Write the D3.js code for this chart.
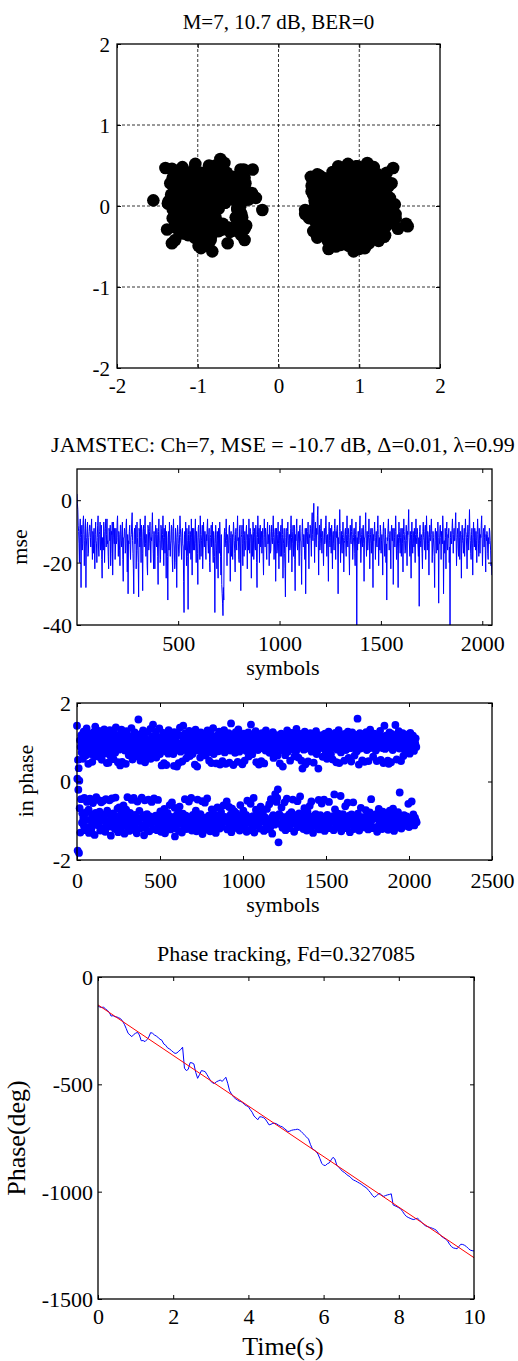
<!DOCTYPE html>
<html>
<head>
<meta charset="utf-8">
<script src="https://cdn.jsdelivr.net/npm/d3@7"></script>
<style>
  body { margin: 0; background: #fff; }
  svg text { font-family: "Liberation Serif", "Times New Roman", serif; fill: #000; }
</style>
</head>
<body>
<svg id="fig" width="518" height="1361"></svg>
<script>
// ---------- equalizer output: in-phase / quadrature, one entry per 2 symbols ----------
const inPhase = [
1.42,0.07,-1.76,0.55,-0.21,0.34,-1.82,0.02,-0.68,1.05,-1.30,0.88,-0.45,1.18,0.74,-1.05,-0.81,0.95,0.58,-0.93,1.27,-1.14,-0.42,0.84,1.09,-1.24,0.66,-0.79,0.99,1.35,-0.52,-0.98,
0.80,-1.17,0.45,-0.72,-1.31,1.02,1.21,-0.44,0.92,-0.99,0.70,-1.22,1.13,-0.84,0.50,0.89,-0.55,-1.08,1.26,-0.91,0.77,-1.36,0.64,1.40,-0.80,0.97,-0.40,1.04,-1.11,0.85,-0.95,1.16,
-0.47,0.73,1.29,-1.03,-0.77,0.62,-1.25,1.01,1.10,-0.53,-0.90,0.55,1.20,-1.19,0.87,-0.49,0.96,-1.00,1.33,0.71,-0.84,-1.28,0.93,-0.45,1.06,-1.07,0.47,-0.74,1.17,-1.02,0.82,0.48,
-1.15,1.00,-0.48,1.31,-0.86,0.65,-1.38,1.05,0.78,-0.43,0.95,-1.12,1.12,-0.81,0.57,-0.97,1.24,0.86,-1.21,0.73,-0.41,1.38,-0.89,0.94,-1.04,1.08,-0.69,0.49,-1.29,1.00,0.81,-0.66,
1.19,-0.88,0.41,-1.18,0.98,-0.76,1.32,-0.99,0.50,1.03,-1.13,0.90,-0.61,1.23,-0.85,-1.33,0.79,1.11,-0.92,0.45,-0.72,1.28,0.95,-1.16,-0.40,0.85,1.07,-1.01,0.67,-1.26,1.16,0.91,
-0.80,1.00,-1.09,0.76,1.36,-0.47,-0.94,0.56,1.14,-1.23,0.93,-0.42,0.82,-1.15,1.25,-0.85,0.64,1.04,-0.99,0.88,-1.32,0.97,-0.51,1.19,0.72,1.58,-1.02,0.92,-0.75,1.10,-1.20,0.53,
0.89,-0.93,1.22,-0.41,0.66,-1.12,1.01,1.30,-0.86,0.77,-1.37,0.96,-0.48,0.49,1.09,-0.95,-1.19,0.87,0.62,-0.83,1.26,-1.01,0.98,-0.46,1.05,0.72,-1.27,0.94,-0.89,1.34,0.58,-1.08,
0.86,-0.52,1.15,-0.98,0.67,1.45,-1.21,0.91,-0.43,1.07,0.79,-1.03,1.00,-0.87,1.27,0.61,-0.99,-1.24,0.93,0.74,-0.47,1.13,-1.11,0.84,1.35,-0.92,0.70,-0.76,1.03,-1.28,0.96,0.41,
-1.01,1.11,-0.84,0.87,1.24,-1.14,0.47,-0.70,0.99,-1.32,1.19,0.77,-0.94,0.42,-1.06,1.08,0.92,-0.80,-1.17,0.71,1.31,-0.97,0.86,-0.60,1.14,1.01,-1.22,0.75,-0.90,1.22,-0.53,0.96,
1.05,-1.10,0.70,-0.95,0.40,1.26,-0.67,-1.40,0.90,-1.19,1.12,0.81,-0.86,0.38,-1.02,0.97,1.20,-0.79,0.47,-1.26,0.95,-0.64,1.37,-1.08,0.76,0.88,-0.92,1.17,-1.30,0.51,1.01,-0.82,
1.42,-0.99,0.82,-1.16,1.08,-0.45,0.93,1.23,-0.87,0.59,-1.21,0.99,-0.96,1.14,0.73,-1.07,0.88,-0.51,1.29,-1.13,0.65,0.96,-0.91,1.04,-0.42,0.84,-1.25,1.20,0.70,-0.85,1.10,-1.00,
0.78,-1.12,1.00,0.43,-0.93,1.32,-0.74,1.02,-1.27,0.90,0.38,-0.46,1.18,-1.04,0.79,-0.89,1.12,0.95,-1.20,0.61,-0.83,1.25,-0.99,0.87,1.06,-0.50,-1.34,0.98,0.72,-1.09,1.16,-0.92,
0.93,-0.54,1.20,-1.23,0.66,1.01,-0.97,0.85,-0.43,1.30,-1.12,0.81,1.10,-0.87,0.53,-1.05,0.99,-1.27,0.75,1.22,-0.95,0.47,-0.71,1.07,0.89,-1.17,1.36,-0.82,0.70,0.96,-1.02,1.05,
-0.85,0.83,-1.31,1.13,0.46,-0.96,1.17,-0.66,0.97,-1.09,0.77,-0.88,1.27,0.91,-1.20,0.43,-0.99,1.06,-0.78,0.87,1.21,-1.15,0.52,-0.93,1.02,-0.61,0.95,1.31,-1.03,0.74,-0.90,1.10,
0.45,-1.00,0.92,-0.51,1.16,-1.22,0.86,1.00,-0.93,1.23,-0.65,0.48,-1.12,1.09,0.79,-0.84,1.48,-1.29,0.93,-0.69,0.88,1.19,-1.01,0.42,-1.15,1.04,-0.76,0.99,0.73,-1.06,1.26,-0.91,
-0.81,1.11,0.90,-1.19,0.50,-0.95,1.33,-0.87,0.97,0.76,-1.25,1.05,-0.60,0.82,-1.01,1.18,0.99,-0.89,0.44,-1.10,1.14,-0.74,0.87,1.22,-0.97,0.53,-1.21,1.07,0.93,-0.85,0.78,-1.28,
1.02,-0.49,0.98,-1.05,1.25,0.64,-0.91,0.88,-1.24,1.10,0.74,-0.57,1.45,-0.99,0.92,-1.16,0.69,1.15,-0.88,1.01,-0.42,1.06,-1.30,0.86,0.95,-1.01,1.28,-0.72,0.49,-1.12,1.13,0.91,
-0.94,0.80,-1.13,1.18,0.43,-0.84,1.00,-1.20,1.07,-0.64,0.90,0.52,-1.02,1.23,-0.96,0.85,-0.77,1.09,0.96,-1.26,0.46,-0.90,1.15,-0.98,0.79,1.30,-1.10,0.92,-0.70,0.99,-1.21,1.03,
0.87,-1.01,1.12,-0.58,0.73,1.20,-1.17,0.94,-0.45,1.05,-0.92,0.82,-1.33,0.97,1.26,-0.86,0.60,-0.99,1.13,-1.10,0.77,-0.32,1.00,-0.96,1.18,-0.52,0.89,-0.42,0.66,-0.20,1.08,-1.55,
0.95,-0.83,1.10,0.46,-1.08,0.91,-0.88,1.22,-0.66,0.79,1.04,-1.18,0.38,-0.95,0.99,-1.02,1.16,-0.53,0.86,0.67,-1.24,1.06,-0.90,0.96,-0.44,1.30,-1.00,0.76,0.90,-1.12,1.19,-0.84,
1.01,-1.19,0.53,-0.90,1.13,0.93,-0.78,1.24,-1.06,0.82,-0.46,0.97,1.08,-0.94,-1.28,0.64,1.18,-0.86,0.91,-1.09,0.77,1.34,-0.99,0.87,-0.50,1.02,-1.16,0.61,0.96,-0.81,1.11,-1.01,
-0.38,0.88,1.21,-1.13,0.53,-0.92,0.99,0.33,-0.85,1.14,-1.21,0.81,0.93,-0.68,1.27,-1.02,0.44,-0.96,1.09,0.84,-1.25,0.94,-0.76,1.17,0.51,-1.10,1.01,-0.89,1.05,-0.62,0.85,1.23,
-1.17,0.98,-0.51,0.76,1.12,-1.00,0.90,-1.31,1.20,0.48,-0.87,1.03,-1.11,0.87,0.95,-0.83,1.28,-0.94,0.70,-1.15,1.07,0.80,-0.98,0.33,-0.47,1.16,-1.22,0.91,0.99,-0.86,1.10,-1.04,
0.88,-0.56,1.18,-1.09,0.63,1.00,-0.91,1.10,-0.46,0.83,-1.26,1.22,0.94,-0.97,0.74,-1.13,1.04,0.58,-0.85,1.13,-1.01,0.92,1.27,-0.52,0.78,-1.19,0.98,-0.94,1.08,0.70,-1.03,0.90,
-0.99,1.17,0.56,-0.88,0.96,-1.24,1.05,-0.33,0.87,-0.71,1.24,0.91,-1.11,0.49,-0.95,1.12,0.81,-1.17,1.01,-0.82,1.31,-0.93,0.47,-1.04,1.08,0.95,-0.37,0.74,-1.27,1.20,-0.90,0.86,
1.02,-0.83,0.92,1.14,-1.14,0.53,-1.00,1.21,-0.63,0.99,0.80,-1.19,1.10,-0.91,0.89,-0.54,1.27,-1.07,0.60,0.96,-0.87,1.06,-1.29,0.85,1.16,-0.96,0.51,-0.84,1.00,1.25,-1.11,0.93,
-0.53,0.86,-1.21,1.09,0.66,-0.97,1.02,-0.89,0.95,1.19,-1.15,0.77,0.99,1.60,-0.82,1.13,-1.01,0.43,-1.25,0.90,1.23,-0.94,0.84,-0.67,1.05,-1.08,0.97,0.54,-0.91,1.20,-1.17,0.88,
1.11,-0.95,0.50,-1.12,1.01,0.91,-0.73,1.26,-1.03,0.80,-0.87,1.07,0.93,-1.22,0.52,-0.98,1.18,0.85,-0.79,1.32,-1.08,0.92,-0.45,1.00,1.10,-1.19,0.88,-0.96,0.63,1.04,-0.86,1.22,
-0.90,0.97,1.14,-1.16,0.79,-0.83,1.05,0.52,-1.28,0.98,-0.95,1.20,0.86,-0.70,1.09,-1.08,0.92,1.29,-0.99,0.55,-0.87,1.02,0.95,-1.21,1.13,-0.77,0.85,0.47,-1.05,1.01,1.42,-0.93,
0.83,-1.14,0.98,1.17,-0.85,0.91,-1.00,1.08,0.53,-1.23,0.94,0.45,-0.96,1.25,-0.74,0.87,1.06,-1.11,0.49,-0.89,1.21,0.97,-1.06,0.80,-0.69,1.13,0.92,-1.26,1.03,-0.83,0.88,1.44,
-1.00,1.10,-0.94,0.56,1.18,-1.17,0.90,-0.78,1.00,1.28,-1.05,0.84,-0.28,0.95,1.12,-0.97,0.52,-1.20,1.04,0.88,-0.90,1.23,-1.09,0.65,0.98,-0.86,1.15,-0.99,0.79,1.07,-1.13,0.92,
1.12,-0.89,0.87,-1.02,0.96,1.20,-0.57,0.91,-1.16,1.03,0.71,-0.95,1.24,0.82,-1.09,0.94,-0.51,1.09,0.98,-1.01,1.17,-0.84,0.90,0.78,-1.12,1.01,-0.92,0.96,1.10,-1.00,0.88,-1.04
];
const quadrature = [
0.04,-0.17,0.11,0.29,-0.07,0.20,-0.13,0.03,-0.25,0.15,0.07,-0.34,0.22,-0.10,0.38,-0.21,0.13,-0.43,0.06,0.27,-0.15,0.08,-0.28,0.18,-0.03,0.34,-0.20,0.14,-0.36,0.01,0.24,-0.11,
0.17,-0.27,0.07,0.58,-0.04,0.31,-0.18,0.11,-0.39,0.21,0.03,-0.14,0.46,-0.29,0.10,-0.07,0.25,-0.22,0.15,0.35,-0.48,0.06,-0.13,0.28,0.20,-0.32,0.08,-0.17,0.41,-0.01,0.13,-0.24,
-0.08,0.22,-0.31,0.14,0.04,-0.53,0.27,-0.11,0.18,0.36,-0.20,0.01,-0.35,0.10,0.29,-0.15,0.49,-0.06,0.13,-0.27,0.21,-0.42,0.07,0.17,-0.10,0.32,-0.22,0.03,0.25,-0.38,0.11,-0.03,
0.20,-0.13,0.38,-0.21,0.06,0.15,-0.29,0.08,-0.45,0.27,-0.04,0.11,0.34,-0.17,0.21,-0.36,0.03,0.52,-0.14,0.24,-0.25,0.10,0.42,-0.07,0.17,-0.32,0.13,-0.20,0.28,0.01,-0.41,0.22,
-0.15,0.08,0.25,-0.34,0.18,-0.03,0.13,-0.49,0.31,-0.10,0.21,0.06,-0.27,0.39,-0.18,0.14,-0.06,0.29,-0.39,0.10,0.22,-0.13,0.04,0.35,-0.24,0.17,-0.52,0.07,0.27,-0.08,0.15,-0.31,
0.11,-0.21,0.32,0.01,-0.14,0.45,-0.28,0.20,-0.07,0.13,-0.38,0.25,0.04,-0.18,0.36,-0.11,0.15,-0.25,0.08,0.29,-0.46,0.18,-0.03,0.24,-0.34,-0.22,0.14,-0.15,0.39,-0.06,0.10,0.27,
-0.20,0.07,-0.36,0.28,0.13,-0.10,0.21,-0.27,0.50,-0.14,0.03,-0.32,0.17,0.06,-0.22,0.38,-0.01,0.14,-0.42,0.22,-0.08,0.31,-0.18,0.11,0.01,-0.29,0.20,-0.13,0.35,-0.24,0.07,0.15,
-0.06,0.27,-0.17,0.10,0.42,-0.15,0.04,-0.35,0.18,-0.11,0.28,0.52,-0.25,0.08,-0.04,0.21,-0.31,0.13,-0.56,0.34,0.01,-0.20,0.15,-0.43,0.24,0.06,-0.13,0.36,-0.28,0.11,-0.01,0.18,
0.14,-0.24,0.06,0.29,-0.41,0.17,-0.08,0.22,-0.15,0.46,-0.03,0.10,-0.34,0.25,-0.18,0.07,0.38,-0.11,0.20,-0.50,0.13,-0.27,0.03,0.32,-0.07,-0.21,0.15,-0.38,0.08,0.24,-0.14,0.43,
-0.10,0.20,-0.29,0.11,0.36,-0.17,0.04,0.47,-0.22,0.14,-0.46,0.27,0.07,-0.08,0.21,-0.35,0.01,0.31,-0.13,0.17,-0.25,0.41,-0.06,0.10,-0.20,0.49,-0.32,0.13,0.03,-0.15,0.25,-0.56,
0.47,-0.04,0.15,-0.28,0.22,0.08,-0.38,0.18,-0.01,0.34,-0.21,0.11,-0.52,0.27,-0.08,0.04,0.20,-0.31,0.13,0.39,-0.15,0.07,-0.24,0.29,-0.42,0.17,-0.06,0.24,-0.35,0.10,0.53,-0.13,
0.21,-0.36,0.06,0.15,-0.18,0.31,-0.03,0.13,-0.27,0.43,-0.15,-0.10,0.25,-0.39,0.08,0.18,-0.14,0.35,-0.06,0.11,-0.29,0.22,0.01,-0.48,0.17,-0.11,0.28,-0.22,0.14,0.38,-0.17,0.06,
-0.25,0.13,-0.07,0.36,0.18,-0.32,0.10,-0.15,0.45,-0.03,0.22,-0.41,0.07,0.27,-0.20,0.14,-0.08,0.32,-0.28,0.03,0.20,-0.13,0.52,-0.36,0.15,-0.04,0.24,-0.22,0.11,-0.45,0.29,0.00,
0.17,-0.20,0.35,-0.06,0.13,-0.27,0.24,0.04,-0.38,0.18,-0.11,0.28,-0.17,0.08,0.41,-0.31,0.01,0.21,-0.14,-0.49,0.31,-0.07,0.15,0.25,-0.22,0.10,-0.34,0.20,-0.01,0.11,-0.42,0.27,
0.05,-0.14,0.22,-0.29,0.10,0.34,-0.18,0.03,-0.10,0.27,0.15,-0.39,0.20,-0.04,0.42,-0.24,-0.28,0.11,-0.17,0.29,-0.34,0.06,0.18,-0.13,0.25,-0.50,0.14,-0.01,0.36,-0.21,0.08,0.17,
-0.28,0.18,0.04,-0.15,0.38,-0.08,0.21,-0.43,0.13,-0.22,0.28,0.01,-0.32,0.17,-0.06,0.48,-0.20,0.10,0.25,-0.13,-0.36,0.15,0.07,-0.27,0.32,-0.03,0.13,-0.18,-0.52,0.22,0.03,-0.11,
0.24,-0.07,0.14,-0.34,0.08,0.27,-0.21,0.39,-0.01,0.17,-0.28,0.11,-0.10,0.20,-0.46,0.06,0.31,-0.17,0.13,-0.10,0.35,-0.25,0.04,0.21,-0.38,0.15,-0.06,0.28,-0.20,0.10,0.43,-0.13,
-0.18,0.29,0.08,-0.24,0.14,-0.42,0.21,0.03,-0.11,0.34,-0.27,0.17,0.06,-0.35,0.25,-0.04,0.13,-0.20,0.46,-0.08,0.18,-0.29,0.10,0.22,-0.15,0.01,0.36,-0.22,0.15,-0.53,0.07,0.20,
-0.10,0.25,-0.31,0.13,0.17,-0.21,0.06,0.38,-0.14,0.21,-0.04,-0.34,0.28,0.08,-0.18,0.14,0.03,0.32,-0.27,0.18,-0.11,0.45,-0.39,0.10,0.22,-0.15,0.42,0.18,-0.07,-0.05,0.15,0.07,
0.20,-0.36,0.11,-0.06,0.27,-0.17,0.43,-0.13,0.07,0.31,-0.24,0.14,-0.12,0.22,-0.49,0.04,-0.14,0.34,-0.08,0.18,-0.28,0.11,0.01,-0.41,0.24,-0.03,0.15,-0.21,0.39,-0.11,0.06,0.27,
-0.15,0.10,-0.27,0.32,-0.03,0.17,0.50,-0.20,0.13,-0.38,0.21,0.01,-0.10,0.28,-0.22,0.08,0.18,-0.32,0.06,0.24,-0.14,0.41,-0.07,0.14,-0.25,0.35,0.11,-0.43,0.20,-0.04,0.03,0.29,
0.12,-0.08,0.24,-0.18,0.36,0.06,-0.29,-0.10,0.14,-0.22,0.10,0.27,-0.39,0.20,0.03,-0.13,0.31,-0.48,0.15,0.07,-0.21,0.25,0.13,-0.34,0.18,-0.01,0.42,-0.17,0.08,-0.27,0.22,0.04,
-0.24,0.14,-0.04,0.29,-0.35,0.11,0.20,-0.15,0.04,0.39,-0.10,0.22,-0.28,0.15,-0.50,0.07,0.27,-0.18,0.34,0.00,-0.22,0.13,0.21,-0.05,-0.31,0.18,0.08,-0.42,0.25,-0.13,0.06,0.32,
0.11,-0.28,0.18,0.07,-0.17,0.38,-0.06,0.22,-0.36,0.14,0.03,-0.21,0.29,-0.11,0.49,-0.25,0.10,-0.15,0.20,-0.41,0.27,0.04,-0.08,0.34,-0.20,0.15,-0.03,0.24,-0.32,0.13,0.42,-0.14,
-0.07,0.21,-0.34,0.13,0.03,-0.24,0.31,0.16,-0.13,0.17,-0.43,0.08,0.25,-0.18,0.36,-0.04,0.14,-0.28,0.06,0.20,-0.38,0.11,-0.15,0.46,-0.21,0.01,0.08,-0.10,0.28,-0.31,0.17,0.07,
0.27,-0.11,0.15,-0.29,0.07,0.34,-0.20,0.10,-0.46,0.22,-0.03,0.14,-0.25,0.41,-0.08,0.18,-0.35,0.04,0.28,-0.15,0.11,-0.50,0.21,0.01,-0.18,0.31,-0.06,0.17,-0.27,0.08,0.38,-0.22,
0.06,-0.18,0.25,-0.10,0.35,-0.28,0.13,0.20,-0.39,0.03,0.24,-0.14,0.43,-0.25,0.10,-0.21,0.15,-0.04,0.29,-0.34,0.08,0.18,-0.13,0.53,-0.24,0.14,-0.01,0.22,-0.45,0.11,-0.08,0.32,
-0.17,0.28,0.04,-0.25,0.17,-0.07,0.38,-0.31,0.13,0.21,-0.49,0.08,-0.14,0.27,-0.01,0.34,-0.22,0.15,0.06,-0.36,0.20,-0.11,0.29,0.03,-0.20,0.48,-0.06,0.13,-0.28,0.22,0.10,-0.15,
0.18,-0.04,0.31,-0.21,0.08,0.25,-0.38,0.14,0.01,-0.17,0.41,-0.10,0.21,-0.29,0.11,0.06,-0.24,0.35,-0.13,0.17,-0.43,0.07,0.27,-0.03,-0.18,0.22,-0.34,0.13,0.04,0.28,-0.20,-0.08,
0.14,-0.27,0.07,0.32,-0.11,0.20,-0.41,0.03,0.24,-0.15,0.36,-0.18,-0.06,0.17,-0.31,0.10,0.45,-0.20,0.13,-0.01,0.25,-0.35,0.15,0.04,-0.22,0.29,-0.08,0.18,-0.52,0.11,0.21,0.02,
-0.13,0.22,-0.03,0.15,-0.32,0.10,0.39,-0.18,0.06,-0.25,0.28,0.13,0.10,-0.08,0.20,-0.42,0.01,0.31,-0.14,0.08,0.24,-0.36,0.17,-0.06,0.49,-0.21,0.11,-0.29,0.04,0.34,-0.15,0.18,
0.08,-0.34,0.25,-0.10,0.17,-0.20,0.36,0.01,-0.27,0.13,-0.45,0.21,0.06,-0.14,0.29,-0.07,0.15,-0.39,0.24,0.03,-0.18,0.32,-0.11,0.10,0.27,-0.22,0.07,-0.31,0.14,0.20,-0.04,0.11
];
const symbolStep = 2;     // symbols between stored samples
const settleSamples = 12; // samples before the equalizer settles (left out of the constellation)

// ---------- squared error in dB, one entry per 2 symbols starting at symbol 1 ----------
const mseDb = [
2,-1,-3,-8,-10,-14,-20,-9,-6,-12,-28,-11,-8,-16,-14,-7,-5,-11,-21,-13,-9,-6,-28,-15,-12,-9,-7,-18,-17,-12,-10,-8,
-8,-12,-15,-9,-6,-13,-19,-10,-11,-17,-9,-14,-22,-11,-7,-13,-14,-20,-12,-8,-5,-15,-18,-11,-10,-7,-16,-13,-8,-19,-25,-12,
-12,-16,-7,-10,-20,-13,-9,-6,-15,-11,-6,-14,-13,-18,-22,-9,-10,-13,-8,-21,-17,-10,-11,-7,-24,-14,-7,-12,-14,-9,-19,-15,
-9,-14,-13,-7,-5,-12,-18,-10,-11,-16,-21,-8,-8,-13,-15,-11,-7,-19,-26,-12,-12,-9,-10,-17,-16,-8,-6,-14,-23,-11,-30,-13,
-14,-10,-8,-15,-19,-12,-11,-7,-4,-13,-17,-22,-30,-11,-9,-14,-13,-8,-22,-16,-7,-12,-16,-20,-31,-9,-10,-15,-6,-12,-20,-8,
-12,-17,-29,-10,-8,-13,-15,-9,-5,-14,-18,-11,-11,-21,-24,-8,-9,-16,-14,-10,-7,-13,-20,-12,-13,-8,-4,-11,-17,-22,-10,-14,
-22,-11,-8,-14,-15,-9,-11,-18,-27,-10,-6,-13,-13,-20,-19,-8,-9,-15,-16,-11,-5,-12,-21,-9,-12,-17,-8,-13,-25,-10,-14,-18,
-32,-12,-10,-16,-7,-11,-18,-14,-13,-8,-9,-19,-23,-10,-6,-13,-15,-22,-20,-9,-11,-15,-28,-12,-8,-10,-14,-18,-17,-11,-5,-9,
-12,-15,-19,-10,-9,-14,-15,-26,-36,-11,-10,-16,-7,-12,-21,-9,-13,-18,-35,-11,-8,-13,-17,-10,-11,-19,-6,-12,-24,-9,-14,-16,
-9,-13,-16,-11,-6,-14,-20,-10,-12,-17,-27,-9,-8,-12,-14,-19,-5,-11,-18,-13,-11,-8,-22,-15,-7,-12,-15,-10,-10,-16,-19,-11,
-13,-9,-6,-14,-17,-11,-9,-20,-23,-12,-11,-8,-15,-13,-7,-16,-20,-10,-12,-18,-36,-14,-8,-11,-16,-22,-10,-13,-25,-9,-14,-17,
-7,-11,-18,-24,-11,-27,-30,-33,-37,-28,-32,-12,-9,-15,-14,-10,-6,-13,-21,-11,-12,-17,-16,-9,-8,-14,-26,-12,-10,-18,-15,-11,
-19,-12,-7,-10,-13,-17,-23,-11,-9,-14,-16,-10,-5,-13,-12,-19,-20,-9,-8,-15,-29,-12,-11,-8,-14,-21,-6,-11,-18,-13,-10,-16,
-15,-10,-8,-13,-22,-11,-12,-16,-6,-12,-17,-9,-10,-14,-25,-11,-13,-18,-7,-10,-19,-12,-9,-15,-16,-8,-11,-20,-28,-12,-5,-10,
-14,-9,-20,-12,-8,-15,-12,-10,-17,-13,-9,-18,-24,-11,-6,-12,-15,-9,-11,-16,-19,-10,-7,-14,-13,-11,-21,-8,-10,-17,-16,-12,
-8,-13,-14,-10,-5,-12,-19,-15,-11,-9,-26,-13,-9,-17,-16,-11,-7,-14,-22,-10,-13,-18,-10,-8,-18,-12,-6,-11,-25,-14,-12,-9,
-17,-22,-31,-12,-9,-15,-14,-10,-7,-13,-20,-11,-11,-16,-15,-9,-5,-12,-23,-14,-10,-8,-18,-13,-8,-19,-29,-11,-13,-9,-6,-14,
-16,-11,-10,-14,-21,-9,-8,-13,-13,-18,-27,-10,-6,-12,-15,-11,-11,-16,-19,-9,-30,-14,-9,-12,-14,-10,-7,-15,-22,-11,-12,-8,
-9,-13,-18,-8,-4,-11,-13,-6,-1,-12,-20,-10,-7,-14,-15,-9,-11,-5,-2,-13,-24,-11,-8,-16,-14,-9,-6,-12,-17,-10,-10,-15,
-21,-12,-9,-14,-13,-8,-5,-11,-18,-14,-11,-16,-26,-10,-7,-13,-15,-9,-12,-17,-8,-13,-22,-11,-10,-14,-16,-9,-6,-12,-19,-10,
-12,-9,-8,-15,-30,-12,-14,-10,-3,-9,-20,-13,-10,-16,-17,-11,-7,-12,-23,-14,-13,-10,-9,-15,-18,-11,-5,-13,-15,-9,-11,-16,
-24,-12,-8,-13,-14,-10,-6,-11,-19,-15,-12,-9,-9,-17,-21,-11,-7,-14,-41,-12,-16,-10,-10,-14,-13,-8,-5,-12,-20,-15,-11,-9,
-15,-11,-8,-14,-26,-12,-12,-9,-4,-13,-18,-10,-10,-16,-14,-11,-6,-12,-22,-14,-11,-9,-17,-13,-9,-15,-28,-11,-13,-10,-7,-12,
-19,-12,-10,-14,-15,-9,-5,-11,-21,-13,-12,-16,-8,-10,-17,-13,-11,-15,-24,-10,-7,-12,-14,-18,-9,-11,-20,-14,-32,-12,-13,-9,
-6,-11,-16,-12,-10,-15,-22,-10,-8,-13,-13,-9,-27,-14,-9,-12,-15,-10,-5,-11,-19,-14,-11,-16,-28,-12,-7,-10,-14,-17,-12,-9,
-18,-12,-9,-14,-23,-11,-6,-10,-13,-17,-16,-11,-8,-13,-21,-10,-11,-8,-3,-12,-15,-18,-10,-13,-25,-11,-7,-14,-17,-10,-12,-15,
-9,-14,-20,-11,-6,-12,-14,-9,-11,-15,-18,-12,-34,-10,-8,-13,-15,-11,-12,-17,-22,-10,-7,-12,-13,-16,-10,-8,-19,-13,-5,-11,
-16,-10,-11,-14,-24,-12,-8,-13,-13,-9,-6,-11,-20,-15,-10,-12,-15,-18,-28,-11,-9,-13,-17,-10,-12,-16,-7,-12,-33,-14,-14,-9,
-8,-12,-19,-10,-11,-14,-5,-9,-30,-13,-13,-17,-9,-12,-22,-10,-7,-14,-16,-11,-12,-9,-20,-15,-41,-12,-10,-13,-14,-9,-6,-11,
-17,-11,-9,-13,-13,-8,-4,-12,-21,-14,-11,-9,-15,-18,-7,-12,-19,-10,-10,-14,-25,-11,-8,-13,-14,-17,-12,-9,-18,-12,-6,-10,
-11,-15,-22,-12,-8,-11,-16,-9,-3,-10,-13,-17,-19,-11,-9,-14,-24,-12,-7,-13,-15,-9,-12,-16,-10,-13,-20,-11,-6,-10,-14,-18,
-9,-13,-17,-11,-12,-8,-5,-12,-21,-14,-10,-9,-15,-12,-8,-16,-23,-11,-13,-10,-11,-17,-19,-12,-14,-9,-10,-13,-16,-21,-20,-24
];
const mseStep = 2;

// ---------- carrier phase estimate, sampled every 0.05 s ----------
const trackStep = 0.05;
const trackPhase = [
-135,-140,-142,-140,-150,-155,-165,-182,-180,-185,
-186,-190,-194,-205,-220,-240,-262,-270,-278,-268,
-262,-258,-270,-297,-296,-301,-292,-280,-259,-262,
-270,-275,-282,-290,-295,-312,-318,-330,-335,-342,
-350,-356,-354,-345,-338,-327,-425,-436,-430,-399,
-400,-405,-445,-472,-455,-436,-438,-441,-455,-470,
-485,-494,-496,-488,-484,-480,-486,-478,-467,-495,
-530,-545,-558,-566,-572,-578,-580,-586,-595,-600,
-604,-618,-630,-648,-656,-665,-651,-652,-655,-662,
-675,-689,-686,-682,-681,-684,-690,-695,-698,-705,
-712,-720,-718,-714,-712,-711,-709,-712,-719,-728,
-738,-746,-755,-780,-800,-806,-813,-825,-845,-868,
-877,-878,-870,-866,-852,-840,-848,-876,-885,-895,
-905,-910,-918,-925,-930,-940,-946,-950,-955,-960,
-965,-972,-978,-984,-995,-1005,-1018,-1026,-1020,-1012,
-1008,-1018,-1022,-1018,-1015,-1013,-1010,-1062,-1066,-1070,
-1075,-1080,-1092,-1105,-1115,-1120,-1124,-1128,-1130,-1126,
-1124,-1132,-1142,-1150,-1158,-1162,-1165,-1168,-1171,-1175,
-1180,-1192,-1202,-1210,-1216,-1222,-1230,-1245,-1256,-1262,
-1264,-1266,-1255,-1245,-1246,-1250,-1256,-1265,-1272,-1275,
-1276
];
// linear fit of the phase (slope = -360 * Fd)
const fitTime = [0, 10];
const fitPhase = [-130, -1307.5];

// ---------- tick values ----------
const constTicks = [-2, -1, 0, 1, 2];
const mseXTicks = [500, 1000, 1500, 2000];
const mseYTicks = [-40, -20, 0];
const ipXTicks = [0, 500, 1000, 1500, 2000, 2500];
const ipYTicks = [-2, 0, 2];
const trackXTicks = [0, 2, 4, 6, 8, 10];
const trackYTicks = [-1500, -1000, -500, 0];

const svg = d3.select("#fig");
const fmt = d => String(d);

// Box with inward ticks on all four sides; labels on left and bottom only.
function frame(g, x, y, xt, yt, o) {
  const [x0, x1] = x.range(), [y0, y1] = y.range();
  const tl = o.tick;
  const clean = sel => { sel.select(".domain").remove(); sel.attr("font-family", null).attr("font-size", o.fs);
    sel.selectAll(".tick line").attr("stroke", "#000").attr("stroke-width", 1); };
  const b = g.append("g").attr("transform", `translate(0,${y0})`)
    .call(d3.axisBottom(x).tickValues(xt).tickSizeInner(-tl).tickSizeOuter(0).tickFormat(fmt));
  clean(b);
  b.selectAll("text").attr("y", o.xLab).attr("dy", null);
  const t = g.append("g").attr("transform", `translate(0,${y1})`)
    .call(d3.axisTop(x).tickValues(xt).tickSizeInner(-tl).tickSizeOuter(0).tickFormat(""));
  clean(t);
  const l = g.append("g").attr("transform", `translate(${x0},0)`)
    .call(d3.axisLeft(y).tickValues(yt).tickSizeInner(-tl).tickSizeOuter(0).tickFormat(fmt));
  clean(l);
  l.selectAll("text").attr("x", -o.yLab).attr("dy", "0.34em");
  const r = g.append("g").attr("transform", `translate(${x1},0)`)
    .call(d3.axisRight(y).tickValues(yt).tickSizeInner(-tl).tickSizeOuter(0).tickFormat(""));
  clean(r);
  g.append("rect").attr("x", x0).attr("y", y1).attr("width", x1 - x0).attr("height", y0 - y1)
    .attr("fill", "none").attr("stroke", "#000").attr("stroke-width", 1.3);
}

function title(txt, cx, y, fs) {
  svg.append("text").attr("x", cx).attr("y", y).attr("text-anchor", "middle")
    .attr("font-size", fs).text(txt);
}
function yLabel(txt, x, cy, fs) {
  svg.append("text").attr("transform", `translate(${x},${cy}) rotate(-90)`)
    .attr("text-anchor", "middle").attr("font-size", fs).text(txt);
}

// ===== Panel 1: constellation =====
{
  const x = d3.scaleLinear().domain([-2, 2]).range([117, 440]);
  const y = d3.scaleLinear().domain([-2, 2]).range([368, 44]);
  const g = svg.append("g");
  const grid = g.append("g").attr("stroke", "#000").attr("stroke-width", 0.8).attr("stroke-dasharray", "3,2");
  grid.selectAll(".gx").data(constTicks.slice(1, -1)).join("line")
    .attr("x1", d => x(d)).attr("x2", d => x(d)).attr("y1", y(2)).attr("y2", y(-2));
  grid.selectAll(".gy").data(constTicks.slice(1, -1)).join("line")
    .attr("y1", d => y(d)).attr("y2", d => y(d)).attr("x1", x(-2)).attr("x2", x(2));
  const pts = inPhase.map((v, i) => [v, quadrature[i]]).slice(settleSamples)
    .filter(p => p[1] !== undefined);
  g.append("g").selectAll("circle").data(pts).join("circle")
    .attr("cx", d => x(d[0])).attr("cy", d => y(d[1])).attr("r", 6.3).attr("fill", "#000");
  frame(g, x, y, constTicks, constTicks, { tick: 4, fs: 21, xLab: 25, yLab: 7 });
  title("M=7, 10.7 dB, BER=0", 278.5, 28.5, 21);
}

// ===== Panel 2: squared error =====
{
  const x = d3.scaleLinear().domain([1, 2048]).range([77, 492]);
  const y = d3.scaleLinear().domain([-40, 10]).range([625, 469]);
  const g = svg.append("g");
  svg.append("clipPath").attr("id", "mseClip").append("rect")
    .attr("x", 77).attr("y", 469).attr("width", 415).attr("height", 156);
  const line = d3.line().x((d, i) => x(1 + i * mseStep)).y(d => y(d));
  g.append("path").datum(mseDb).attr("clip-path", "url(#mseClip)")
    .attr("d", line).attr("fill", "none").attr("stroke", "#0000ff").attr("stroke-width", 1);
  frame(g, x, y, mseXTicks, mseYTicks, { tick: 4, fs: 22, xLab: 26, yLab: 5 });
  title("JAMSTEC: Ch=7, MSE = -10.7 dB, \u0394=0.01, \u03bb=0.99", 283, 452, 22);
  title("symbols", 283, 675, 22);
  yLabel("mse", 27, 547, 22);
}

// ===== Panel 3: in-phase component vs symbol =====
{
  const x = d3.scaleLinear().domain([0, 2500]).range([77, 492]);
  const y = d3.scaleLinear().domain([-2, 2]).range([860, 703]);
  const g = svg.append("g");
  g.append("g").selectAll("circle").data(inPhase).join("circle")
    .attr("cx", (d, i) => x(i * symbolStep)).attr("cy", d => y(d)).attr("r", 3.9).attr("fill", "#0000ff");
  frame(g, x, y, ipXTicks, ipYTicks, { tick: 4, fs: 22, xLab: 28, yLab: 6 });
  title("symbols", 283, 912, 22);
  yLabel("in phase", 33, 781, 22);
}

// ===== Panel 4: phase tracking =====
{
  const x = d3.scaleLinear().domain([0, 10]).range([98, 474]);
  const y = d3.scaleLinear().domain([-1500, 0]).range([1299, 977]);
  const g = svg.append("g");
  g.append("path").datum(trackPhase)
    .attr("d", d3.line().x((d, i) => x(i * trackStep)).y(d => y(d)))
    .attr("fill", "none").attr("stroke", "#0000ff").attr("stroke-width", 1);
  g.append("path").datum(d3.zip(fitTime, fitPhase))
    .attr("d", d3.line().x(d => x(d[0])).y(d => y(d[1])))
    .attr("fill", "none").attr("stroke", "#ff0000").attr("stroke-width", 1);
  frame(g, x, y, trackXTicks, trackYTicks, { tick: 4, fs: 22, xLab: 25, yLab: 5 });
  title("Phase tracking, Fd=0.327085", 286, 961, 22);
  title("Time(s)", 283, 1355, 26);
  yLabel("Phase(deg)", 25, 1138, 26);
}
</script>
</body>
</html>
